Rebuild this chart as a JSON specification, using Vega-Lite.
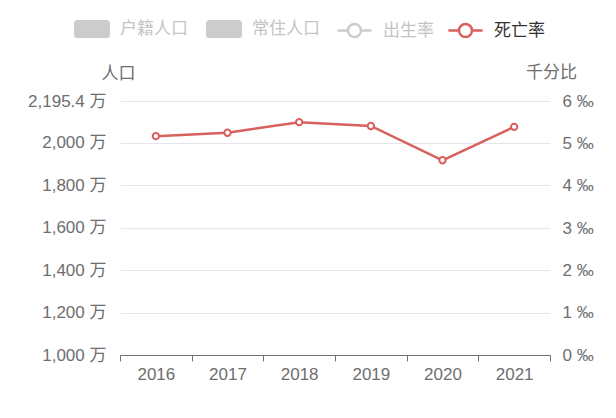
{
  "$schema": "https://vega.github.io/schema/vega-lite/v6.json",
  "width": 430,
  "height": 254,
  "autosize": {"type": "none"},
  "padding": {"left": 120, "top": 101, "right": 66, "bottom": 63},
  "background": "white",
  "config": {
    "view": {"stroke": null},
    "font": "Liberation Sans, 'Noto Sans CJK SC', sans-serif",
    "legend": {
      "title": null,
      "orient": "none",
      "direction": "horizontal",
      "symbolSize": 1296,
      "symbolOpacity": 1,
      "labelFontSize": 17,
      "labelOffset": 9,
      "columnPadding": 18,
      "legendY": -90
    }
  },
  "data": {
    "values": [
      {"year": "2016", "rate": 5.17, "series": "死亡率"},
      {"year": "2017", "rate": 5.25, "series": "死亡率"},
      {"year": "2018", "rate": 5.5, "series": "死亡率"},
      {"year": "2019", "rate": 5.41, "series": "死亡率"},
      {"year": "2020", "rate": 4.6, "series": "死亡率"},
      {"year": "2021", "rate": 5.39, "series": "死亡率"}
    ]
  },
  "encoding": {
    "x": {
      "field": "year",
      "type": "ordinal",
      "scale": {"type": "band", "paddingInner": 0, "paddingOuter": 0},
      "axis": {
        "title": null,
        "labelAngle": 0,
        "tickBand": "extent",
        "domainColor": "#6e7079",
        "tickColor": "#6e7079",
        "tickSize": 6,
        "labelPadding": 5,
        "labelFontSize": 17,
        "labelColor": "#6e6e6e",
        "grid": false
      }
    }
  },
  "layer": [
    {
      "mark": {"type": "point", "opacity": 0},
      "encoding": {
        "y": {
          "datum": 1000,
          "type": "quantitative",
          "scale": {"domain": [1000, 2195.4], "nice": false, "zero": false},
          "axis": {
            "title": "人口",
            "values": [1000, 1200, 1400, 1600, 1800, 2000, 2195.4],
            "labelExpr": "format(datum.value, ',') + ' 万'",
            "grid": true,
            "gridColor": "#e3e6ec",
            "domain": false,
            "ticks": false,
            "labelPadding": 14,
            "labelFontSize": 17,
            "labelColor": "#6e6e6e",
            "titleAngle": 0,
            "titleX": -2,
            "titleY": -28,
            "titleAlign": "center",
            "titleBaseline": "middle",
            "titleFontSize": 17,
            "titleFontWeight": "normal",
            "titleColor": "#6e6e6e"
          }
        }
      }
    },
    {
      "encoding": {
        "y": {
          "field": "rate",
          "type": "quantitative",
          "scale": {"domain": [0, 6], "nice": false},
          "axis": {
            "orient": "right",
            "title": "千分比",
            "values": [0, 1, 2, 3, 4, 5, 6],
            "labelExpr": "datum.value + ' ‰'",
            "grid": false,
            "domain": false,
            "ticks": false,
            "labelPadding": 12,
            "labelFontSize": 17,
            "labelColor": "#6e6e6e",
            "titleAngle": 0,
            "titleX": 1,
            "titleY": -29,
            "titleAlign": "center",
            "titleBaseline": "middle",
            "titleFontSize": 17,
            "titleFontWeight": "normal",
            "titleColor": "#6e6e6e"
          }
        }
      },
      "layer": [
        {"mark": {"type": "line", "color": "#d8605d", "strokeWidth": 2.5}},
        {"mark": {"type": "point", "filled": true, "fill": "white", "stroke": "#d8605d", "strokeWidth": 2, "size": 40, "opacity": 1}},
        {
          "mark": {"type": "point", "filled": true, "opacity": 0},
          "encoding": {
            "fill": {
              "field": "series",
              "type": "nominal",
              "scale": {"domain": ["户籍人口", "常住人口"], "range": ["#cccccc", "#cccccc"]},
              "legend": {
                "legendX": -46,
                "labelOffset": 10,
                "symbolType": "M-0.8,-0.5 L0.8,-0.5 Q1,-0.5 1,-0.3 L1,0.3 Q1,0.5 0.8,0.5 L-0.8,0.5 Q-1,0.5 -1,0.3 L-1,-0.3 Q-1,-0.5 -0.8,-0.5 Z",
                "symbolStrokeWidth": 0,
                "labelColor": "#c4c4c4"
              }
            }
          }
        },
        {
          "mark": {"type": "point", "fill": "white", "opacity": 0},
          "encoding": {
            "stroke": {
              "field": "series",
              "type": "nominal",
              "scale": {"domain": ["出生率"], "range": ["#cccccc"]},
              "legend": {
                "legendX": 215,
                "symbolType": "M-0.95,0 L-0.36,0 M0.36,0 L0.95,0 M0.36,0 A0.36,0.36 0 1,1 -0.36,0 A0.36,0.36 0 1,1 0.36,0 Z",
                "symbolStrokeWidth": 2.5,
                "symbolFillColor": "#ffffff",
                "labelColor": "#c4c4c4"
              }
            }
          }
        },
        {
          "mark": {"type": "point", "fill": "white", "opacity": 0},
          "encoding": {
            "color": {
              "field": "series",
              "type": "nominal",
              "scale": {"domain": ["死亡率"], "range": ["#d8605d"]},
              "legend": {
                "legendX": 326,
                "symbolType": "M-0.95,0 L-0.36,0 M0.36,0 L0.95,0 M0.36,0 A0.36,0.36 0 1,1 -0.36,0 A0.36,0.36 0 1,1 0.36,0 Z",
                "symbolStrokeWidth": 2.5,
                "symbolFillColor": "#ffffff",
                "labelColor": "#333333"
              }
            }
          }
        }
      ]
    }
  ],
  "resolve": {"scale": {"y": "independent"}}
}
